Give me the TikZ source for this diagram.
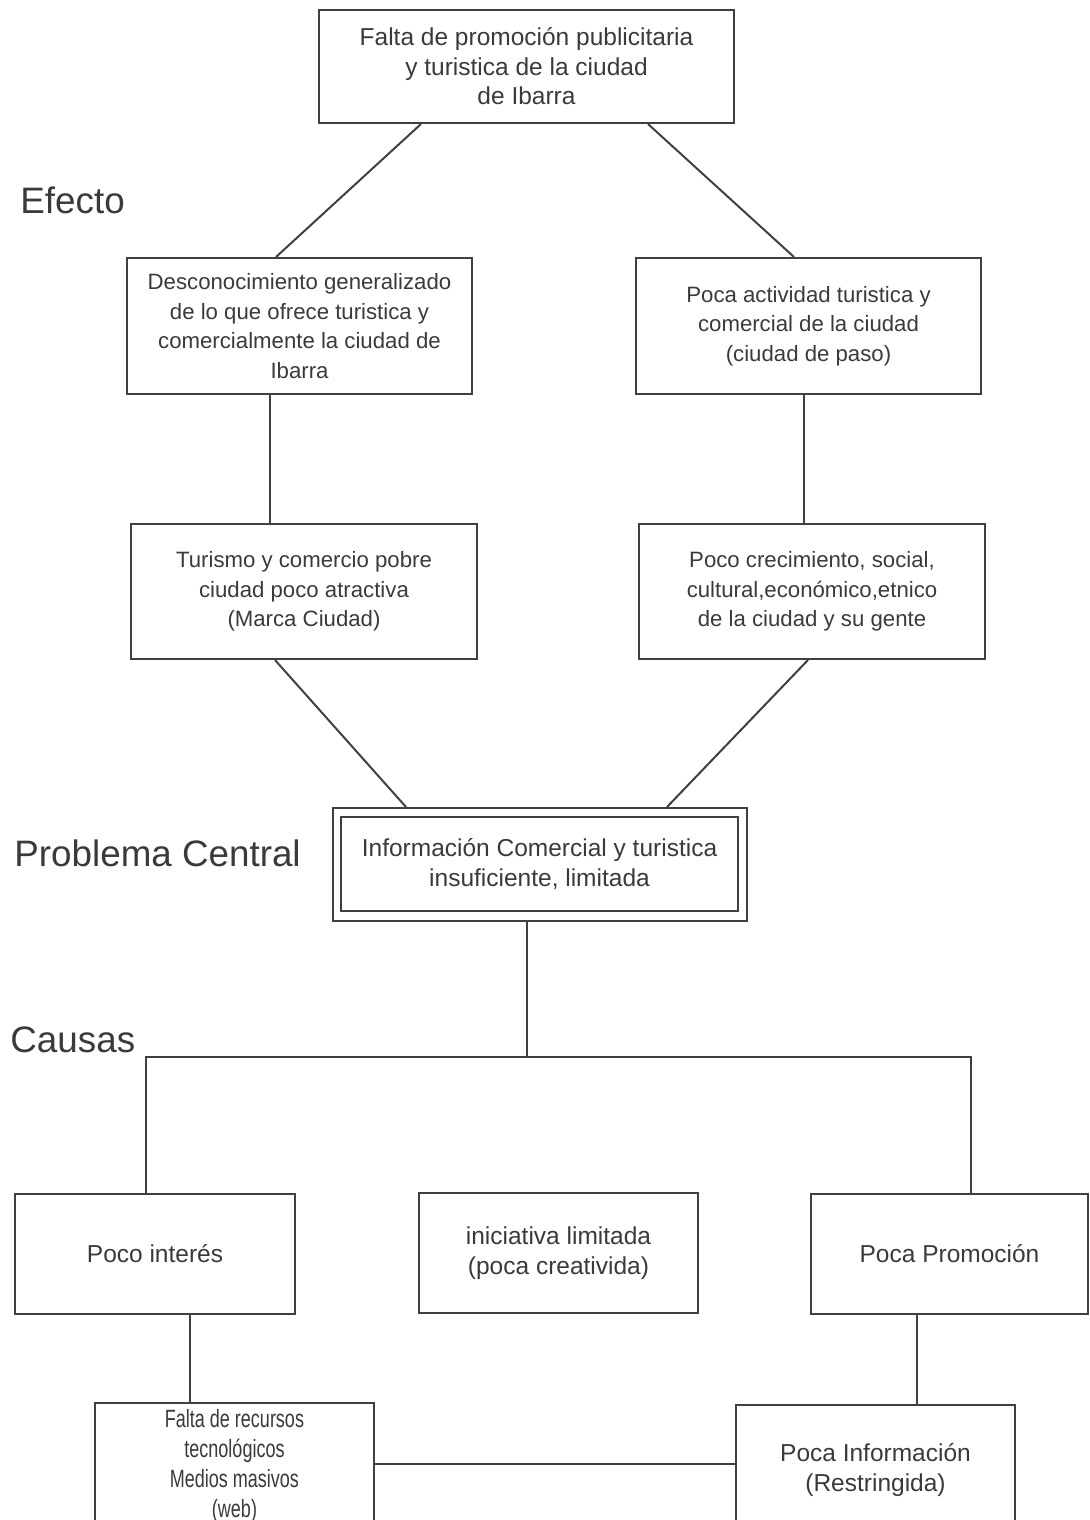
\documentclass[tikz,border=0pt]{standalone}
\usepackage{fontspec}
\setmainfont{Liberation Sans}
\newfontfamily\angosta[FakeStretch=0.72]{Liberation Sans}
\usepackage{tikz}
\usetikzlibrary{calc}
\definecolor{gristexto}{HTML}{3A3A3A}
\definecolor{grislinea}{HTML}{404040}

\begin{document}
\begin{tikzpicture}[x=0.5pt,y=-0.5pt,
  caja/.style={draw=grislinea,line width=1pt,text=gristexto,align=center,inner sep=0pt,
    font=\fontsize{12.25}{14.75}\selectfont},
  efecto/.style={caja,font=\fontsize{11.1}{14.75}\selectfont},
  rotulo/.style={anchor=west,inner sep=0pt,text=gristexto,font=\fontsize{18.4}{22}\selectfont},
  linea/.style={grislinea,line width=1pt}]
\clip (0,0) rectangle (1089,1520);

\node[rotulo] (efecto) at (20,200) {Efecto};
\node[rotulo] (problema) at (14,853) {Problema Central};
\node[rotulo] (causas) at (10,1040) {Causas};

\node[caja,minimum width=207.5pt,minimum height=56.5pt] (sup) at (526.5,66.5)
  {Falta de promoción publicitaria\\ y turistica de la ciudad\\ de Ibarra};
\node[efecto,minimum width=172.5pt,minimum height=68pt] (desconoc) at (299.5,326)
  {Desconocimiento generalizado\\ de lo que ofrece turistica y\\ comercialmente la ciudad de\\ Ibarra};
\node[efecto,minimum width=172.5pt,minimum height=68pt] (actividad) at (808.5,326)
  {Poca actividad turistica y\\ comercial de la ciudad\\ (ciudad de paso)};
\node[efecto,minimum width=173pt,minimum height=67.5pt] (turismo) at (304,591.5)
  {Turismo y comercio pobre\\ ciudad poco atractiva\\ (Marca Ciudad)};
\node[efecto,minimum width=173pt,minimum height=67.5pt] (crecim) at (812,591.5)
  {Poco crecimiento, social,\\ cultural,económico,etnico\\ de la ciudad y su gente};

\node[caja,minimum width=207pt,minimum height=56.5pt] (centroext) at (540,864.5) {};
\node[caja,minimum width=198.5pt,minimum height=47pt] (centro) at (539.5,864)
  {Información Comercial y turistica\\ insuficiente, limitada};

\node[caja,minimum width=140pt,minimum height=60pt] (interes) at (155,1254) {Poco interés};
\node[caja,minimum width=139.5pt,minimum height=60pt] (iniciativa) at (558.5,1253)
  {iniciativa limitada\\ (poca creativida)};
\node[caja,minimum width=138.5pt,minimum height=60pt] (promocion) at (949.5,1254) {Poca Promoción};
\node[caja,minimum width=139.5pt,minimum height=63pt,font=\angosta\fontsize{12.5}{14.9}\selectfont]
  (recursos) at (234.5,1466) {Falta de recursos\\ tecnológicos\\ Medios masivos\\ (web)};
\node[caja,minimum width=139.5pt,minimum height=65pt] (informacion) at (875.5,1470)
  {Poca Información\\ (Restringida)};

\coordinate (bus) at (527,1057);

\draw[linea] (sup.south -| 421,0) -- (desconoc.north -| 276,0);
\draw[linea] (sup.south -| 648,0) -- (actividad.north -| 794,0);
\draw[linea] (desconoc.south -| 270,0) -- (turismo.north -| 270,0);
\draw[linea] (actividad.south -| 804,0) -- (crecim.north -| 804,0);
\draw[linea] (turismo.south -| 275,0) -- (centroext.north -| 406,0);
\draw[linea] (crecim.south -| 808,0) -- (centroext.north -| 667,0);
\draw[linea] (centroext.south -| bus) -- (bus);
\draw[linea] (interes.north -| 146,0) |- (bus) -| (promocion.north -| 971,0);
\draw[linea] (interes.south -| 190,0) -- (recursos.north -| 190,0);
\draw[linea] (promocion.south -| 917,0) -- (informacion.north -| 917,0);
\draw[linea] (recursos.east |- 0,1464) -- (informacion.west |- 0,1464);
\end{tikzpicture}
\end{document}
